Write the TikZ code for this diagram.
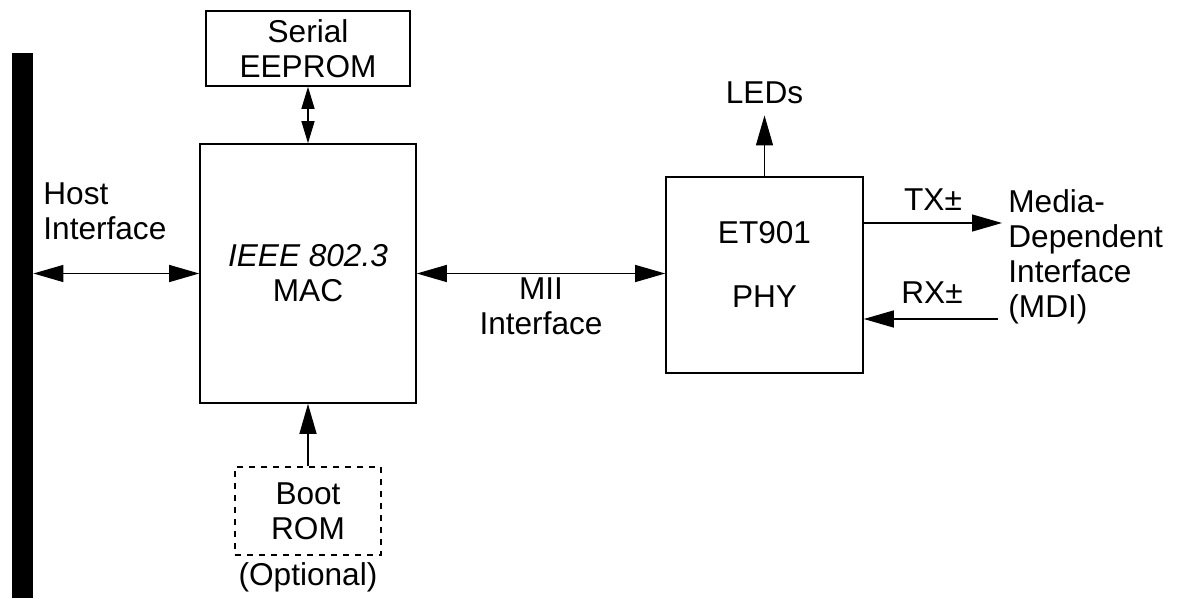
\documentclass[tikz,border=0pt]{standalone}
\usepackage{fontspec}
\setmainfont{Liberation Sans}
\usetikzlibrary{
  positioning,
  arrows.meta
}

\begin{document}
\begin{tikzpicture}[
  x=0.5pt, y=-0.5pt,
  font=\fontsize{15.8}{17.5}\selectfont,
  blk/.style={draw, line width=0.8pt, inner sep=0pt, align=center},
  lbl/.style={inner sep=0pt, align=center},
  arr/.style={-{Triangle[length=15pt,width=8.5pt]}, line width=0.65pt},
  dbl/.style={{Triangle[length=15pt,width=8.5pt]}-{Triangle[length=15pt,width=8.5pt]}, line width=0.65pt},
  sdbl/.style={{Triangle[length=11pt,width=6.5pt]}-{Triangle[length=11pt,width=6.5pt]}, line width=0.65pt},
]
  \useasboundingbox (0,0) rectangle (1182,599);

  % Host bus (LEFT)
  \node[fill, inner sep=0pt, minimum width=10.5pt, minimum height=272.5pt] (bus) at (22.5,325.5) {};
  \node[lbl, align=left, anchor=west] (host) at (43,211) {Host\\Interface};

  % MAC with its memories
  \node[blk, minimum width=102pt, minimum height=37.5pt] (eeprom) at (308,48.5) {Serial\\EEPROM};
  \node[blk, minimum width=108pt, minimum height=129.5pt] (mac) at (308,273.5) {\textit{IEEE 802.3}\\MAC};
  \node[blk, dash pattern=on 3pt off 3pt, minimum width=73pt, minimum height=44pt] (boot) at (308,511) {Boot\\ROM};
  \node[lbl] (opt) at (308,577) {(Optional)};
  \node[lbl] (mii) at (541,306) {MII\\Interface};

  % PHY (RIGHT)
  \node[blk, minimum width=98.5pt, minimum height=98pt] (phy) at (764.5,275) {};
  \node[lbl] (phyname) at (764.5,233) {ET901};
  \node[lbl] (phytype) at (764.5,297) {PHY};
  \node[lbl] (leds) at (764.5,93) {LEDs};
  \node[lbl] (tx) at (933,200) {TX±};
  \node[lbl] (rx) at (932,293) {RX±};
  \node[lbl, align=left, anchor=west] (mdi) at (1008,257) {Media-\\Dependent\\Interface\\(MDI)};
  \coordinate (txend) at (1002,223);
  \coordinate (rxbeg) at (998,319);

  \draw[dbl] (bus.east |- mac.west) -- (mac.west);
  \draw[sdbl] (eeprom) -- (mac);
  \draw[arr] (boot) -- (mac);
  \draw[dbl] (mac.east) -- (mac.east -| phy.west);
  \draw[arr, shorten >=5.5pt] (phy.north) -- (leds.south);
  \draw[arr] (phy.east |- txend) -- (txend);
  \draw[arr] (rxbeg) -- (phy.east |- rxbeg);
\end{tikzpicture}
\end{document}
